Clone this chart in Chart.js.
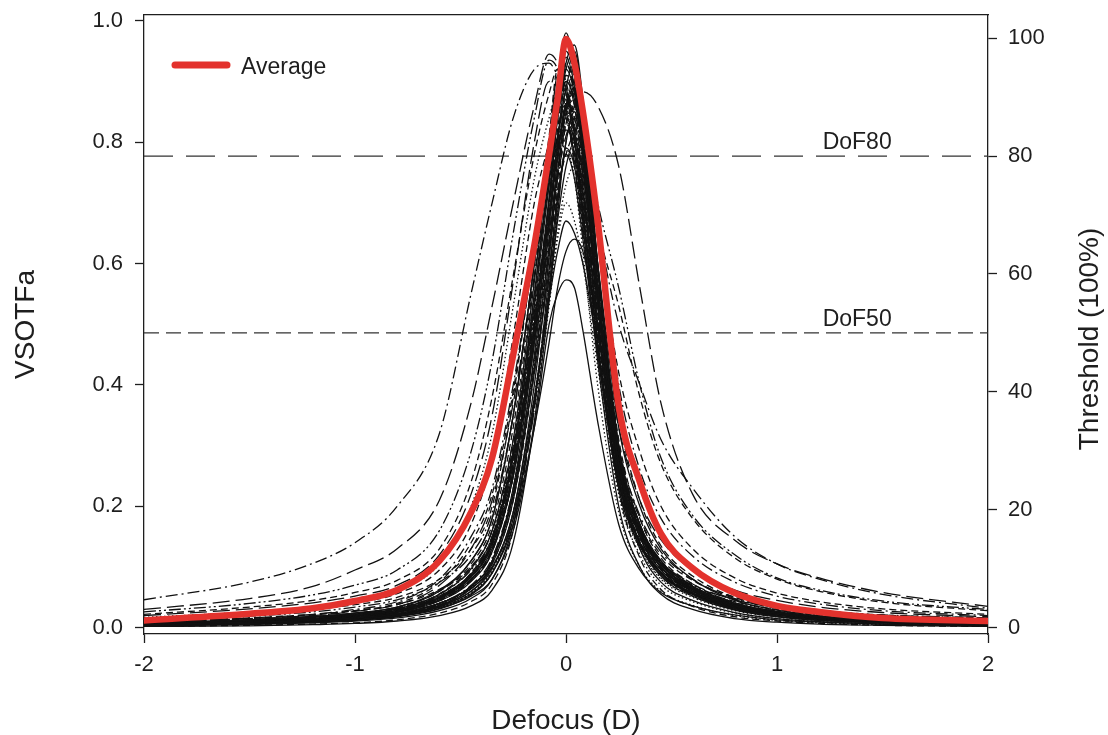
<!DOCTYPE html>
<html>
<head>
<meta charset="utf-8">
<title>VSOTFa through focus</title>
<script src="https://cdn.jsdelivr.net/npm/chart.js@4.4.1/dist/chart.umd.min.js"></script>
<style>
  html, body { margin: 0; padding: 0; background: #fff; }
  #wrap { width: 1108px; height: 735px; position: relative; }
</style>
</head>
<body>
<div id="wrap"><canvas id="dofChart"></canvas></div>
<script>
// defocus grid (D) shared by every curve
const defocus = [-2, -1.5, -1.2, -1, -0.8, -0.6, -0.45, -0.35, -0.25, -0.15, -0.08, -0.04, 0, 0.04, 0.08, 0.15, 0.25, 0.35, 0.45, 0.6, 0.8, 1, 1.2, 1.5, 2];

// mean VSOTFa curve (red)
const average = [0.012, 0.023, 0.032, 0.044, 0.062, 0.11, 0.19, 0.28, 0.45, 0.63, 0.78, 0.87, 0.97, 0.93, 0.85, 0.67, 0.365, 0.24, 0.155, 0.098, 0.057, 0.036, 0.026, 0.016, 0.011];

// individual eyes
const eye01 = [0.008, 0.013, 0.018, 0.024, 0.034, 0.06, 0.11, 0.18, 0.35, 0.60, 0.79, 0.90, 0.98, 0.92, 0.80, 0.56, 0.29, 0.17, 0.11, 0.068, 0.04, 0.026, 0.018, 0.012, 0.008];
const eye02 = [0.007, 0.012, 0.016, 0.021, 0.030, 0.052, 0.09, 0.15, 0.29, 0.54, 0.75, 0.87, 0.95, 0.90, 0.78, 0.54, 0.27, 0.155, 0.10, 0.062, 0.036, 0.024, 0.017, 0.011, 0.007];
const eye03 = [0.005, 0.009, 0.012, 0.016, 0.023, 0.04, 0.068, 0.11, 0.22, 0.45, 0.66, 0.80, 0.89, 0.93, 0.85, 0.60, 0.30, 0.17, 0.105, 0.065, 0.037, 0.024, 0.016, 0.010, 0.006];
const eye04 = [0.006, 0.010, 0.014, 0.019, 0.027, 0.048, 0.08, 0.13, 0.26, 0.50, 0.70, 0.82, 0.91, 0.86, 0.74, 0.50, 0.25, 0.145, 0.092, 0.058, 0.034, 0.022, 0.015, 0.010, 0.006];
const eye05 = [0.004, 0.007, 0.010, 0.014, 0.020, 0.035, 0.06, 0.10, 0.19, 0.40, 0.61, 0.75, 0.85, 0.89, 0.82, 0.57, 0.27, 0.15, 0.09, 0.055, 0.03, 0.019, 0.012, 0.008, 0.004];
const eye06 = [0.009, 0.015, 0.02, 0.027, 0.038, 0.07, 0.13, 0.21, 0.37, 0.58, 0.73, 0.81, 0.87, 0.82, 0.71, 0.50, 0.27, 0.165, 0.108, 0.068, 0.04, 0.027, 0.019, 0.013, 0.009];
const eye07 = [0.003, 0.005, 0.008, 0.011, 0.016, 0.028, 0.048, 0.08, 0.17, 0.37, 0.56, 0.70, 0.80, 0.85, 0.79, 0.55, 0.25, 0.13, 0.075, 0.045, 0.025, 0.015, 0.01, 0.006, 0.003];
const eye08 = [0.005, 0.009, 0.013, 0.017, 0.025, 0.045, 0.078, 0.125, 0.25, 0.47, 0.64, 0.75, 0.83, 0.79, 0.68, 0.46, 0.23, 0.135, 0.085, 0.054, 0.031, 0.020, 0.014, 0.009, 0.005];
const eye09 = [0.006, 0.010, 0.014, 0.019, 0.027, 0.048, 0.085, 0.14, 0.27, 0.47, 0.62, 0.72, 0.78, 0.81, 0.76, 0.56, 0.29, 0.17, 0.11, 0.068, 0.04, 0.026, 0.018, 0.012, 0.007];
const eye10 = [0.004, 0.007, 0.010, 0.014, 0.020, 0.034, 0.058, 0.095, 0.19, 0.38, 0.56, 0.69, 0.79, 0.74, 0.62, 0.40, 0.19, 0.10, 0.06, 0.037, 0.02, 0.012, 0.008, 0.005, 0.003];
const eye11 = [0.004, 0.007, 0.010, 0.013, 0.019, 0.033, 0.056, 0.092, 0.18, 0.36, 0.53, 0.65, 0.73, 0.76, 0.70, 0.48, 0.22, 0.12, 0.07, 0.043, 0.024, 0.015, 0.01, 0.006, 0.003];
const eye12 = [0.009, 0.015, 0.021, 0.028, 0.040, 0.075, 0.14, 0.22, 0.39, 0.63, 0.81, 0.92, 0.88, 0.80, 0.68, 0.46, 0.23, 0.14, 0.092, 0.058, 0.035, 0.023, 0.016, 0.011, 0.008];
const eye13 = [0.005, 0.009, 0.012, 0.016, 0.023, 0.04, 0.068, 0.11, 0.23, 0.47, 0.68, 0.80, 0.90, 0.87, 0.79, 0.60, 0.33, 0.20, 0.13, 0.08, 0.045, 0.029, 0.02, 0.013, 0.008];
const eye14 = [0.005, 0.008, 0.011, 0.015, 0.022, 0.038, 0.064, 0.105, 0.21, 0.42, 0.61, 0.74, 0.83, 0.86, 0.80, 0.59, 0.31, 0.18, 0.115, 0.072, 0.041, 0.027, 0.018, 0.012, 0.006];
const eye15 = [0.006, 0.011, 0.015, 0.020, 0.029, 0.05, 0.085, 0.14, 0.28, 0.53, 0.73, 0.85, 0.94, 0.89, 0.77, 0.53, 0.27, 0.155, 0.10, 0.063, 0.036, 0.024, 0.016, 0.011, 0.006];
const eye16 = [0.007, 0.012, 0.016, 0.022, 0.031, 0.055, 0.095, 0.15, 0.29, 0.51, 0.68, 0.79, 0.86, 0.88, 0.81, 0.58, 0.29, 0.17, 0.11, 0.068, 0.04, 0.026, 0.018, 0.012, 0.007];
const eye17 = [0.009, 0.016, 0.022, 0.030, 0.043, 0.08, 0.15, 0.23, 0.40, 0.62, 0.77, 0.84, 0.90, 0.86, 0.76, 0.55, 0.30, 0.185, 0.125, 0.08, 0.048, 0.032, 0.023, 0.015, 0.01];
const eye18 = [0.005, 0.009, 0.012, 0.016, 0.023, 0.04, 0.068, 0.11, 0.22, 0.42, 0.59, 0.71, 0.78, 0.74, 0.64, 0.45, 0.23, 0.135, 0.087, 0.055, 0.032, 0.021, 0.014, 0.009, 0.005];
const eye19 = [0.006, 0.010, 0.014, 0.018, 0.026, 0.046, 0.08, 0.13, 0.25, 0.49, 0.70, 0.84, 0.93, 0.96, 0.87, 0.60, 0.29, 0.16, 0.10, 0.062, 0.035, 0.022, 0.015, 0.010, 0.005];
const eye20 = [0.007, 0.012, 0.017, 0.022, 0.032, 0.056, 0.1, 0.16, 0.31, 0.53, 0.68, 0.77, 0.84, 0.80, 0.70, 0.49, 0.25, 0.15, 0.097, 0.06, 0.035, 0.023, 0.016, 0.011, 0.007];
const eye37 = [0.007, 0.011, 0.015, 0.020, 0.028, 0.05, 0.088, 0.145, 0.29, 0.55, 0.75, 0.85, 0.92, 0.88, 0.78, 0.55, 0.28, 0.16, 0.10, 0.064, 0.037, 0.024, 0.017, 0.011, 0.007];
const eye38 = [0.004, 0.008, 0.011, 0.015, 0.021, 0.037, 0.064, 0.105, 0.21, 0.43, 0.63, 0.77, 0.86, 0.90, 0.83, 0.59, 0.29, 0.16, 0.10, 0.06, 0.034, 0.022, 0.015, 0.009, 0.005];
const eye39 = [0.006, 0.010, 0.014, 0.019, 0.027, 0.048, 0.084, 0.138, 0.27, 0.51, 0.70, 0.81, 0.88, 0.84, 0.74, 0.52, 0.26, 0.15, 0.096, 0.06, 0.035, 0.023, 0.016, 0.01, 0.006];
const eye40 = [0.005, 0.009, 0.013, 0.017, 0.025, 0.044, 0.076, 0.125, 0.25, 0.48, 0.67, 0.78, 0.86, 0.82, 0.72, 0.50, 0.25, 0.14, 0.09, 0.056, 0.032, 0.021, 0.014, 0.009, 0.005];
const eye41 = [0.005, 0.009, 0.012, 0.016, 0.023, 0.04, 0.07, 0.115, 0.23, 0.44, 0.62, 0.74, 0.81, 0.84, 0.79, 0.57, 0.29, 0.165, 0.105, 0.065, 0.037, 0.024, 0.016, 0.011, 0.006];
const eye42 = [0.006, 0.010, 0.014, 0.019, 0.027, 0.048, 0.083, 0.135, 0.26, 0.50, 0.71, 0.84, 0.92, 0.95, 0.86, 0.60, 0.30, 0.17, 0.105, 0.065, 0.037, 0.024, 0.016, 0.011, 0.006];
const eye43 = [0.008, 0.013, 0.018, 0.024, 0.034, 0.06, 0.105, 0.17, 0.33, 0.58, 0.77, 0.87, 0.93, 0.88, 0.77, 0.54, 0.28, 0.165, 0.106, 0.066, 0.039, 0.026, 0.018, 0.012, 0.008];
const eye44 = [0.006, 0.011, 0.015, 0.020, 0.029, 0.05, 0.088, 0.145, 0.28, 0.49, 0.65, 0.75, 0.82, 0.78, 0.68, 0.47, 0.24, 0.14, 0.09, 0.057, 0.033, 0.022, 0.015, 0.01, 0.006];
const eye45 = [0.004, 0.006, 0.009, 0.012, 0.018, 0.031, 0.054, 0.09, 0.18, 0.37, 0.55, 0.67, 0.76, 0.80, 0.75, 0.53, 0.26, 0.14, 0.085, 0.052, 0.029, 0.018, 0.012, 0.008, 0.004];
const eye46 = [0.005, 0.008, 0.011, 0.015, 0.022, 0.038, 0.066, 0.11, 0.22, 0.44, 0.63, 0.75, 0.84, 0.80, 0.69, 0.47, 0.23, 0.13, 0.08, 0.05, 0.028, 0.018, 0.012, 0.008, 0.004];
const eye47 = [0.007, 0.012, 0.017, 0.022, 0.031, 0.055, 0.097, 0.16, 0.31, 0.57, 0.77, 0.89, 0.97, 0.91, 0.79, 0.55, 0.28, 0.16, 0.104, 0.065, 0.038, 0.025, 0.017, 0.011, 0.007];
const eye48 = [0.006, 0.010, 0.014, 0.018, 0.026, 0.045, 0.078, 0.128, 0.25, 0.47, 0.66, 0.78, 0.86, 0.89, 0.84, 0.64, 0.35, 0.21, 0.135, 0.085, 0.05, 0.033, 0.023, 0.015, 0.009];
const eye49 = [0.008, 0.013, 0.018, 0.024, 0.034, 0.062, 0.11, 0.18, 0.35, 0.60, 0.79, 0.91, 0.89, 0.81, 0.69, 0.47, 0.24, 0.14, 0.09, 0.056, 0.033, 0.021, 0.015, 0.01, 0.006];
const eye50 = [0.007, 0.012, 0.016, 0.021, 0.03, 0.052, 0.09, 0.15, 0.29, 0.52, 0.70, 0.80, 0.87, 0.83, 0.73, 0.51, 0.26, 0.155, 0.10, 0.063, 0.037, 0.024, 0.017, 0.011, 0.007];
const eye51 = [0.002, 0.003, 0.005, 0.007, 0.011, 0.02, 0.036, 0.062, 0.14, 0.34, 0.54, 0.68, 0.79, 0.76, 0.66, 0.44, 0.2, 0.1, 0.055, 0.03, 0.015, 0.009, 0.006, 0.004, 0.002];
const eye52 = [0.002, 0.004, 0.006, 0.008, 0.013, 0.024, 0.043, 0.072, 0.16, 0.37, 0.58, 0.72, 0.83, 0.86, 0.78, 0.52, 0.23, 0.115, 0.063, 0.035, 0.018, 0.011, 0.007, 0.004, 0.002];
// low-peak eyes
const eye21 = [0.004, 0.007, 0.010, 0.013, 0.019, 0.032, 0.052, 0.08, 0.16, 0.33, 0.50, 0.55, 0.573, 0.56, 0.49, 0.34, 0.17, 0.095, 0.058, 0.036, 0.021, 0.013, 0.009, 0.006, 0.003];
const eye22 = [0.004, 0.007, 0.010, 0.014, 0.020, 0.034, 0.056, 0.09, 0.17, 0.33, 0.47, 0.56, 0.62, 0.64, 0.62, 0.50, 0.26, 0.15, 0.095, 0.06, 0.034, 0.022, 0.015, 0.009, 0.005];
const eye23 = [0.005, 0.008, 0.011, 0.015, 0.021, 0.036, 0.06, 0.097, 0.19, 0.38, 0.54, 0.62, 0.67, 0.65, 0.60, 0.46, 0.24, 0.14, 0.09, 0.057, 0.033, 0.021, 0.014, 0.009, 0.005];
const eye24 = [0.004, 0.007, 0.010, 0.013, 0.019, 0.033, 0.056, 0.092, 0.18, 0.37, 0.54, 0.64, 0.70, 0.67, 0.60, 0.43, 0.22, 0.13, 0.082, 0.052, 0.03, 0.019, 0.013, 0.008, 0.004];
// wide eyes, myopic side
const eye25 = [0.046, 0.075, 0.106, 0.14, 0.20, 0.32, 0.55, 0.70, 0.84, 0.92, 0.93, 0.91, 0.88, 0.84, 0.78, 0.66, 0.50, 0.40, 0.31, 0.23, 0.15, 0.105, 0.08, 0.055, 0.032];
const eye26 = [0.03, 0.048, 0.068, 0.095, 0.13, 0.21, 0.37, 0.53, 0.70, 0.86, 0.945, 0.93, 0.88, 0.80, 0.71, 0.54, 0.33, 0.21, 0.145, 0.095, 0.062, 0.045, 0.034, 0.025, 0.018];
const eye27 = [0.026, 0.04, 0.054, 0.07, 0.095, 0.16, 0.29, 0.44, 0.65, 0.84, 0.935, 0.92, 0.86, 0.76, 0.65, 0.46, 0.26, 0.16, 0.108, 0.07, 0.047, 0.034, 0.027, 0.021, 0.016];
const eye28 = [0.022, 0.034, 0.045, 0.058, 0.078, 0.13, 0.24, 0.38, 0.58, 0.78, 0.88, 0.92, 0.90, 0.82, 0.72, 0.52, 0.29, 0.18, 0.12, 0.078, 0.05, 0.036, 0.028, 0.021, 0.016];
const eye29 = [0.02, 0.031, 0.041, 0.052, 0.07, 0.12, 0.22, 0.35, 0.57, 0.80, 0.90, 0.89, 0.85, 0.78, 0.68, 0.49, 0.27, 0.165, 0.11, 0.072, 0.046, 0.033, 0.025, 0.019, 0.014];
const eye30 = [0.017, 0.026, 0.035, 0.045, 0.062, 0.105, 0.2, 0.32, 0.53, 0.74, 0.84, 0.88, 0.86, 0.78, 0.67, 0.47, 0.25, 0.155, 0.10, 0.066, 0.042, 0.029, 0.021, 0.015, 0.011];
const eye31 = [0.015, 0.024, 0.032, 0.041, 0.056, 0.095, 0.17, 0.28, 0.48, 0.70, 0.80, 0.86, 0.84, 0.77, 0.67, 0.48, 0.26, 0.16, 0.105, 0.068, 0.043, 0.03, 0.022, 0.016, 0.012];
// wide eyes, hyperopic side
const eye32 = [0.007, 0.011, 0.015, 0.019, 0.026, 0.04, 0.065, 0.10, 0.18, 0.36, 0.58, 0.70, 0.80, 0.86, 0.883, 0.86, 0.76, 0.56, 0.37, 0.22, 0.144, 0.105, 0.082, 0.058, 0.035];
const eye33 = [0.014, 0.022, 0.03, 0.038, 0.05, 0.08, 0.13, 0.2, 0.38, 0.63, 0.78, 0.86, 0.90, 0.87, 0.80, 0.66, 0.53, 0.38, 0.27, 0.18, 0.115, 0.08, 0.06, 0.042, 0.028];
const eye34 = [0.012, 0.019, 0.026, 0.034, 0.046, 0.075, 0.12, 0.19, 0.35, 0.60, 0.76, 0.85, 0.91, 0.89, 0.83, 0.70, 0.56, 0.40, 0.28, 0.185, 0.12, 0.082, 0.062, 0.044, 0.03];
const eye35 = [0.01, 0.016, 0.022, 0.028, 0.038, 0.063, 0.1, 0.16, 0.3, 0.55, 0.74, 0.85, 0.93, 0.89, 0.81, 0.64, 0.42, 0.29, 0.2, 0.13, 0.082, 0.057, 0.043, 0.031, 0.022];
const eye36 = [0.008, 0.013, 0.018, 0.023, 0.032, 0.053, 0.088, 0.14, 0.27, 0.5, 0.68, 0.79, 0.85, 0.87, 0.83, 0.66, 0.40, 0.26, 0.18, 0.118, 0.075, 0.052, 0.039, 0.028, 0.02];

// axis ticks and threshold lines (right axis, %)
const xTicks = [-2, -1, 0, 1, 2];
const leftTicks = [0, 0.2, 0.4, 0.6, 0.8, 1.0];
const rightTicks = [0, 20, 40, 60, 80, 100];
const thresholds = [80, 50];
const thresholdNames = ['DoF80', 'DoF50'];

// line styles
const DASH = {
  solid: [],
  dot: [1.5, 2.5],
  dash: [7, 4],
  longDash: [17, 6],
  dashDot: [12, 4, 2, 4],
  dashDotDot: [12, 3, 2, 3, 2, 3]
};

const eyes = [
  [eye01, 'solid'], [eye02, 'dash'], [eye03, 'solid'], [eye04, 'dash'],
  [eye05, 'solid'], [eye06, 'longDash'], [eye07, 'solid'], [eye08, 'dashDot'],
  [eye09, 'dash'], [eye10, 'dot'], [eye11, 'dot'], [eye12, 'dash'],
  [eye13, 'solid'], [eye14, 'dash'], [eye15, 'solid'], [eye16, 'dashDotDot'],
  [eye17, 'dashDot'], [eye18, 'solid'], [eye19, 'solid'], [eye20, 'dash'],
  [eye37, 'solid'], [eye38, 'solid'], [eye39, 'dash'], [eye40, 'solid'],
  [eye41, 'dashDot'], [eye42, 'solid'], [eye43, 'dash'], [eye44, 'longDash'],
  [eye45, 'solid'], [eye46, 'dot'], [eye47, 'solid'], [eye48, 'dash'],
  [eye49, 'solid'], [eye50, 'dashDotDot'], [eye51, 'solid'], [eye52, 'dash'],
  [eye21, 'solid'], [eye22, 'solid'], [eye23, 'solid'], [eye24, 'dot'],
  [eye25, 'dashDot'], [eye26, 'longDash'], [eye27, 'dashDotDot'], [eye28, 'dash'],
  [eye29, 'longDash'], [eye30, 'dot'], [eye31, 'dash'],
  [eye32, 'longDash'], [eye33, 'dash'], [eye34, 'dashDotDot'], [eye35, 'dash'], [eye36, 'dashDot']
];

const FONT = '"Liberation Sans", Arial, Helvetica, sans-serif';
const INK = '#1e1e1e';
const RED = '#e3322d';

const toPoints = vals => defocus.map((x, i) => ({ x: x, y: vals[i] }));

const datasets = [];
datasets.push({
  label: 'Average',
  data: toPoints(average),
  borderColor: RED,
  borderWidth: 6.5,
  borderCapStyle: 'round',
  borderJoinStyle: 'round',
  order: 0
});
eyes.forEach(([vals, style], i) => {
  datasets.push({
    label: 'eye ' + (i + 1),
    data: toPoints(vals),
    borderColor: '#111',
    borderWidth: 1.3,
    borderDash: DASH[style],
    order: 1
  });
});
thresholds.forEach((t, i) => {
  datasets.push({
    label: thresholdNames[i],
    yAxisID: 'yRight',
    data: [{ x: -2, y: t }, { x: 2, y: t }],
    borderColor: '#333',
    borderWidth: 1.3,
    borderDash: i === 0 ? [29, 13] : [15, 7],
    cubicInterpolationMode: 'default',
    tension: 0,
    order: 2
  });
});

// legend, DoF labels and the right-hand title (drawn bottom-to-top like the original)
const overlay = {
  id: 'overlay',
  afterDraw(chart) {
    const { ctx, scales } = chart;
    ctx.save();
    ctx.strokeStyle = RED;
    ctx.lineWidth = 7;
    ctx.lineCap = 'round';
    ctx.beginPath();
    ctx.moveTo(175, 65);
    ctx.lineTo(227, 65);
    ctx.stroke();

    ctx.fillStyle = INK;
    ctx.font = '23px ' + FONT;
    ctx.textAlign = 'left';
    ctx.textBaseline = 'alphabetic';
    ctx.fillText('Average', 241, 74);

    ctx.textAlign = 'center';
    thresholds.forEach((t, i) => {
      const y = scales.yRight.getPixelForValue(t);
      const x = scales.x.getPixelForValue(1.38);
      ctx.fillText(thresholdNames[i], x, y - 7);
    });

    ctx.translate(1090, 339);
    ctx.rotate(-Math.PI / 2);
    ctx.font = '28px ' + FONT;
    ctx.textBaseline = 'middle';
    ctx.fillText('Threshold (100%)', 0, 0);
    ctx.restore();
  }
};

const tickFont = { family: FONT, size: 22 };
const titleFont = { family: FONT, size: 28, lineHeight: 1 };
const axisGrid = { drawOnChartArea: false, drawTicks: true, tickLength: 9, tickColor: INK, tickWidth: 1.3 };
const axisBorder = { display: true, color: INK, width: 1.3 };

// fixed box sizes so the plot frame sits where the original has it
const fixBox = (w, h) => ax => {
  if (w !== null) ax.width = w;
  if (h !== null) ax.height = h;
  ax.paddingTop = 0;
  ax.paddingBottom = 0;
  ax.paddingLeft = 0;
  ax.paddingRight = 0;
};

new Chart(document.getElementById('dofChart'), {
  type: 'line',
  data: { datasets: datasets },
  options: {
    responsive: true,
    maintainAspectRatio: false,
    animation: false,
    events: [],
    layout: { padding: 0 },
    elements: {
      point: { radius: 0, hoverRadius: 0 },
      line: { cubicInterpolationMode: 'monotone', fill: false }
    },
    plugins: { legend: { display: false }, tooltip: { enabled: false } },
    scales: {
      x: {
        type: 'linear',
        position: 'bottom',
        min: -2,
        max: 2,
        afterBuildTicks: ax => { ax.ticks = xTicks.map(v => ({ value: v })); },
        afterFit: fixBox(null, 101),
        grid: axisGrid,
        border: axisBorder,
        ticks: { color: INK, font: tickFont, padding: 9, maxRotation: 0, autoSkip: false, callback: v => String(v) },
        title: { display: true, text: 'Defocus (D)', color: INK, font: titleFont, padding: { top: 0, bottom: 0 } }
      },
      xTop: {
        type: 'linear',
        position: 'top',
        min: -2,
        max: 2,
        afterFit: fixBox(null, 15),
        grid: { display: false },
        border: axisBorder,
        ticks: { display: false }
      },
      y: {
        type: 'linear',
        position: 'left',
        min: -0.0104,
        max: 1.0094,
        afterBuildTicks: ax => { ax.ticks = leftTicks.map(v => ({ value: v })); },
        afterFit: fixBox(144, null),
        grid: axisGrid,
        border: axisBorder,
        ticks: { color: INK, font: tickFont, padding: 12, autoSkip: false, callback: v => v.toFixed(1) },
        title: { display: true, text: 'VSOTFa', color: INK, font: titleFont, padding: { top: 12, bottom: 0 } }
      },
      yRight: {
        type: 'linear',
        position: 'right',
        min: -1.1,
        max: 103.95,
        afterBuildTicks: ax => { ax.ticks = rightTicks.map(v => ({ value: v })); },
        afterFit: fixBox(120, null),
        grid: axisGrid,
        border: axisBorder,
        ticks: { color: INK, font: tickFont, padding: 11, autoSkip: false, callback: v => String(v) }
      }
    }
  },
  plugins: [overlay]
});
</script>
</body>
</html>
